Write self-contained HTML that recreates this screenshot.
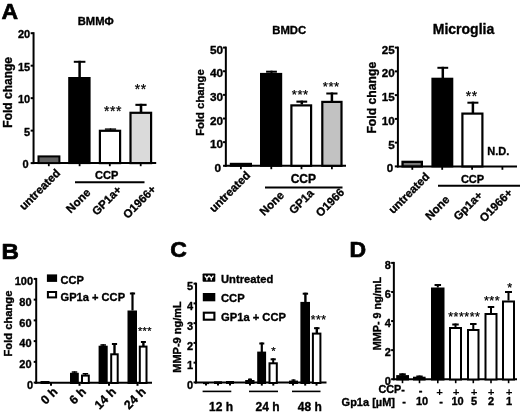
<!DOCTYPE html>
<html><head><meta charset="utf-8"><title>Figure</title>
<style>
html,body{margin:0;padding:0;background:#fff;}
svg{display:block;}
svg text{font-family:"Liberation Sans", sans-serif;fill:#000;stroke:#000;stroke-width:0.35px;stroke-linejoin:round;}
svg text.pl{stroke-width:0.7px;}
svg text.st{stroke-width:0.25px;}
svg text.ns{stroke-width:0;}
</style></head>
<body>
<svg width="520" height="416" viewBox="0 0 520 416">
<rect width="520" height="416" fill="#fff"/>
<text x="1.5" y="18.8" font-size="22" text-anchor="start" font-weight="bold" class="pl" textLength="16.6" lengthAdjust="spacingAndGlyphs">A</text>
<text x="1.5" y="259" font-size="22" text-anchor="start" font-weight="bold" class="pl" textLength="17.4" lengthAdjust="spacingAndGlyphs">B</text>
<text x="170.3" y="257.2" font-size="22" text-anchor="start" font-weight="bold" class="pl" textLength="16.6" lengthAdjust="spacingAndGlyphs">C</text>
<text x="349.5" y="257.2" font-size="22" text-anchor="start" font-weight="bold" class="pl" textLength="16.6" lengthAdjust="spacingAndGlyphs">D</text>
<text x="95.7" y="25.4" font-size="11.2" text-anchor="middle" font-weight="bold">BMMΦ</text>
<line x1="33.55" y1="32.2" x2="33.55" y2="164.1" stroke="#000" stroke-width="2"/>
<line x1="30.65" y1="163.1" x2="33.55" y2="163.1" stroke="#000" stroke-width="2"/>
<text x="28.65" y="168.34" font-size="11" text-anchor="end" font-weight="bold">0</text>
<line x1="30.65" y1="130.625" x2="33.55" y2="130.625" stroke="#000" stroke-width="2"/>
<text x="30.15" y="135.86" font-size="11" text-anchor="end" font-weight="bold">5</text>
<line x1="30.65" y1="98.15" x2="33.55" y2="98.15" stroke="#000" stroke-width="2"/>
<text x="30.15" y="103.39" font-size="11" text-anchor="end" font-weight="bold">10</text>
<line x1="30.65" y1="65.67500000000001" x2="33.55" y2="65.67500000000001" stroke="#000" stroke-width="2"/>
<text x="30.15" y="70.91" font-size="11" text-anchor="end" font-weight="bold">15</text>
<line x1="30.65" y1="33.20000000000002" x2="33.55" y2="33.20000000000002" stroke="#000" stroke-width="2"/>
<text x="30.15" y="38.44" font-size="11" text-anchor="end" font-weight="bold">20</text>
<line x1="32.55" y1="163.0" x2="156.2" y2="163.0" stroke="#000" stroke-width="2"/>
<text x="12.3" y="92.3" font-size="12" text-anchor="middle" font-weight="bold" transform="rotate(-90 12.3 92.3)">Fold change</text>
<rect x="38.5" y="156.4" width="20.9" height="6.699999999999989" fill="#606060" stroke="#000" stroke-width="2"/>
<rect x="69.2" y="78.0" width="20.39999999999999" height="85.1" fill="#000" stroke="#000" stroke-width="2"/>
<line x1="79.6" y1="60.8" x2="79.6" y2="77" stroke="#000" stroke-width="2.5"/>
<line x1="73.8" y1="61.8" x2="85.39999999999999" y2="61.8" stroke="#000" stroke-width="2"/>
<rect x="99.89999999999999" y="130.79999999999998" width="20.200000000000006" height="32.300000000000004" fill="#fff" stroke="#000" stroke-width="2.2"/>
<line x1="110.5" y1="128.4" x2="110.5" y2="130" stroke="#000" stroke-width="1.4"/>
<line x1="104.9" y1="129.1" x2="116.1" y2="129.1" stroke="#000" stroke-width="1.4"/>
<rect x="130.5" y="112.8" width="20.599999999999984" height="50.29999999999999" fill="#dadada" stroke="#000" stroke-width="2.2"/>
<line x1="141" y1="103.8" x2="141" y2="112" stroke="#000" stroke-width="2.6"/>
<line x1="135.4" y1="104.85" x2="146.6" y2="104.85" stroke="#000" stroke-width="2.1"/>
<line x1="48.8" y1="163.1" x2="48.8" y2="166.2" stroke="#000" stroke-width="1.8"/>
<line x1="79.6" y1="163.1" x2="79.6" y2="166.2" stroke="#000" stroke-width="1.8"/>
<line x1="109.8" y1="163.1" x2="109.8" y2="166.2" stroke="#000" stroke-width="1.8"/>
<line x1="140.7" y1="163.1" x2="140.7" y2="166.2" stroke="#000" stroke-width="1.8"/>
<text x="113.1" y="116.34" font-size="13.95" text-anchor="middle" font-weight="normal" class="st" letter-spacing="0.6">***</text>
<text x="140.8" y="94.34" font-size="13.95" text-anchor="middle" font-weight="normal" class="st" letter-spacing="0.6">**</text>
<text x="106.7" y="179" font-size="11" text-anchor="middle" font-weight="bold">CCP</text>
<line x1="75" y1="182.2" x2="144.5" y2="182.2" stroke="#000" stroke-width="2"/>
<text x="61" y="173.8" font-size="11.5" text-anchor="end" font-weight="bold" transform="rotate(-45 61 173.8)">untreated</text>
<text x="91.2" y="193.3" font-size="11.5" text-anchor="end" font-weight="bold" transform="rotate(-45 91.2 193.3)">None</text>
<text x="122.3" y="190.5" font-size="11.5" text-anchor="end" font-weight="bold" transform="rotate(-45 122.3 190.5)">GP1a+</text>
<text x="156.8" y="190" font-size="11.5" text-anchor="end" font-weight="bold" transform="rotate(-45 156.8 190)">O1966+</text>
<text x="289.2" y="33.5" font-size="11.3" text-anchor="middle" font-weight="bold">BMDC</text>
<line x1="225.85" y1="46.6" x2="225.85" y2="166.8" stroke="#000" stroke-width="2"/>
<line x1="223.04999999999998" y1="165.8" x2="225.85" y2="165.8" stroke="#000" stroke-width="2"/>
<text x="221.05" y="171.92" font-size="11.8" text-anchor="end" font-weight="bold">0</text>
<line x1="223.04999999999998" y1="142.16" x2="225.85" y2="142.16" stroke="#000" stroke-width="2"/>
<text x="223.05" y="148.28" font-size="11.8" text-anchor="end" font-weight="bold">10</text>
<line x1="223.04999999999998" y1="118.52000000000001" x2="225.85" y2="118.52000000000001" stroke="#000" stroke-width="2"/>
<text x="223.05" y="124.64" font-size="11.8" text-anchor="end" font-weight="bold">20</text>
<line x1="223.04999999999998" y1="94.88000000000001" x2="225.85" y2="94.88000000000001" stroke="#000" stroke-width="2"/>
<text x="223.05" y="101.0" font-size="11.8" text-anchor="end" font-weight="bold">30</text>
<line x1="223.04999999999998" y1="71.24" x2="225.85" y2="71.24" stroke="#000" stroke-width="2"/>
<text x="223.05" y="77.36" font-size="11.8" text-anchor="end" font-weight="bold">40</text>
<line x1="223.04999999999998" y1="47.599999999999994" x2="225.85" y2="47.599999999999994" stroke="#000" stroke-width="2"/>
<text x="223.05" y="53.72" font-size="11.8" text-anchor="end" font-weight="bold">50</text>
<line x1="224.85" y1="165.8" x2="346" y2="165.8" stroke="#000" stroke-width="2"/>
<text x="204.3" y="102.6" font-size="11.3" text-anchor="middle" font-weight="bold" transform="rotate(-90 204.3 102.6)">Fold change</text>
<rect x="230.8" y="163.8" width="20.19999999999999" height="2.0" fill="#222" stroke="#000" stroke-width="2"/>
<rect x="261.0" y="73.9" width="20.19999999999999" height="91.9" fill="#000" stroke="#000" stroke-width="2"/>
<line x1="271.5" y1="70.7" x2="271.5" y2="73" stroke="#000" stroke-width="2"/>
<line x1="266.1" y1="71.7" x2="276.9" y2="71.7" stroke="#000" stroke-width="2"/>
<rect x="291.40000000000003" y="105.39999999999999" width="19.699999999999978" height="60.40000000000001" fill="#fff" stroke="#000" stroke-width="2.2"/>
<line x1="301.8" y1="100.6" x2="301.8" y2="104.5" stroke="#000" stroke-width="2.5"/>
<line x1="296.40000000000003" y1="101.64999999999999" x2="307.2" y2="101.64999999999999" stroke="#000" stroke-width="2.1"/>
<rect x="322.3" y="101.89999999999999" width="19.200000000000035" height="63.90000000000001" fill="#c2c2c2" stroke="#000" stroke-width="2.2"/>
<line x1="331.9" y1="92.5" x2="331.9" y2="101" stroke="#000" stroke-width="2.5"/>
<line x1="326.29999999999995" y1="93.5" x2="337.5" y2="93.5" stroke="#000" stroke-width="2"/>
<line x1="240.9" y1="165.8" x2="240.9" y2="169.2" stroke="#000" stroke-width="1.8"/>
<line x1="271.3" y1="165.8" x2="271.3" y2="169.2" stroke="#000" stroke-width="1.8"/>
<line x1="301.5" y1="165.8" x2="301.5" y2="169.2" stroke="#000" stroke-width="1.8"/>
<line x1="331.9" y1="165.8" x2="331.9" y2="169.2" stroke="#000" stroke-width="1.8"/>
<text x="300.28" y="98.79" font-size="13.05" text-anchor="middle" font-weight="normal" class="st" letter-spacing="0.56">***</text>
<text x="331.28" y="91.09" font-size="13.05" text-anchor="middle" font-weight="normal" class="st" letter-spacing="0.56">***</text>
<text x="303.3" y="182.5" font-size="12" text-anchor="middle" font-weight="bold">CCP</text>
<line x1="265" y1="187.5" x2="342.5" y2="187.5" stroke="#000" stroke-width="2"/>
<text x="251" y="176" font-size="11.5" text-anchor="end" font-weight="bold" transform="rotate(-45 251 176)">untreated</text>
<text x="284.7" y="196" font-size="11.5" text-anchor="end" font-weight="bold" transform="rotate(-45 284.7 196)">None</text>
<text x="314.5" y="194" font-size="11.5" text-anchor="end" font-weight="bold" transform="rotate(-45 314.5 194)">GP1a</text>
<text x="345" y="193" font-size="11.5" text-anchor="end" font-weight="bold" transform="rotate(-45 345 193)">O1966</text>
<text x="463.5" y="33.9" font-size="14" text-anchor="middle" font-weight="bold">Microglia</text>
<line x1="397.9" y1="46.6" x2="397.9" y2="167.4" stroke="#000" stroke-width="2"/>
<line x1="394.79999999999995" y1="166.4" x2="397.9" y2="166.4" stroke="#000" stroke-width="2"/>
<text x="393.1" y="172.35" font-size="11.6" text-anchor="end" font-weight="bold">0</text>
<line x1="394.79999999999995" y1="142.64000000000001" x2="397.9" y2="142.64000000000001" stroke="#000" stroke-width="2"/>
<text x="394.7" y="148.59" font-size="11.6" text-anchor="end" font-weight="bold">5</text>
<line x1="394.79999999999995" y1="118.88" x2="397.9" y2="118.88" stroke="#000" stroke-width="2"/>
<text x="394.7" y="124.83" font-size="11.6" text-anchor="end" font-weight="bold">10</text>
<line x1="394.79999999999995" y1="95.12" x2="397.9" y2="95.12" stroke="#000" stroke-width="2"/>
<text x="394.7" y="101.07" font-size="11.6" text-anchor="end" font-weight="bold">15</text>
<line x1="394.79999999999995" y1="71.36" x2="397.9" y2="71.36" stroke="#000" stroke-width="2"/>
<text x="394.7" y="77.31" font-size="11.6" text-anchor="end" font-weight="bold">20</text>
<line x1="394.79999999999995" y1="47.60000000000001" x2="397.9" y2="47.60000000000001" stroke="#000" stroke-width="2"/>
<text x="394.7" y="53.55" font-size="11.6" text-anchor="end" font-weight="bold">25</text>
<line x1="396.9" y1="166.4" x2="517" y2="166.4" stroke="#000" stroke-width="2"/>
<text x="376.2" y="97.7" font-size="12.2" text-anchor="middle" font-weight="bold" transform="rotate(-90 376.2 97.7)">Fold change</text>
<rect x="402.54999999999995" y="161.85" width="19.300000000000022" height="4.550000000000017" fill="#777" stroke="#000" stroke-width="2.3"/>
<rect x="432.4" y="78.7" width="19.900000000000034" height="87.7" fill="#000" stroke="#000" stroke-width="2"/>
<line x1="442.8" y1="66.8" x2="442.8" y2="78" stroke="#000" stroke-width="2.5"/>
<line x1="437.40000000000003" y1="67.8" x2="448.2" y2="67.8" stroke="#000" stroke-width="2"/>
<rect x="462.40000000000003" y="113.6" width="19.99999999999999" height="52.800000000000004" fill="#fff" stroke="#000" stroke-width="2.2"/>
<line x1="472.9" y1="101.7" x2="472.9" y2="113" stroke="#000" stroke-width="2.5"/>
<line x1="467.4" y1="102.7" x2="478.4" y2="102.7" stroke="#000" stroke-width="2"/>
<line x1="412.3" y1="166.4" x2="412.3" y2="169.8" stroke="#000" stroke-width="1.8"/>
<line x1="442.2" y1="166.4" x2="442.2" y2="169.8" stroke="#000" stroke-width="1.8"/>
<line x1="472.1" y1="166.4" x2="472.1" y2="169.8" stroke="#000" stroke-width="1.8"/>
<line x1="502.4" y1="166.4" x2="502.4" y2="169.8" stroke="#000" stroke-width="1.8"/>
<text x="471.8" y="101.14" font-size="13.95" text-anchor="middle" font-weight="normal" class="st" letter-spacing="0.6">**</text>
<text x="498.3" y="155" font-size="11" text-anchor="middle" font-weight="bold">N.D.</text>
<text x="472.5" y="183" font-size="11" text-anchor="middle" font-weight="bold">CCP</text>
<line x1="438" y1="185.7" x2="520" y2="185.7" stroke="#000" stroke-width="2"/>
<text x="430.3" y="177.3" font-size="11.5" text-anchor="end" font-weight="bold" transform="rotate(-45 430.3 177.3)">untreated</text>
<text x="450.3" y="200.3" font-size="11.5" text-anchor="end" font-weight="bold" transform="rotate(-45 450.3 200.3)">None</text>
<text x="483.3" y="196" font-size="11.5" text-anchor="end" font-weight="bold" transform="rotate(-45 483.3 196)">Gp1a+</text>
<text x="513.3" y="193.5" font-size="11.5" text-anchor="end" font-weight="bold" transform="rotate(-45 513.3 193.5)">O1966+</text>
<line x1="36.2" y1="277.9" x2="36.2" y2="383.6" stroke="#000" stroke-width="2"/>
<line x1="33.7" y1="382.6" x2="36.2" y2="382.6" stroke="#000" stroke-width="2"/>
<text x="33.1" y="388.94" font-size="11" text-anchor="end" font-weight="bold">0</text>
<line x1="33.7" y1="361.86" x2="36.2" y2="361.86" stroke="#000" stroke-width="2"/>
<text x="31.6" y="368.2" font-size="11" text-anchor="end" font-weight="bold">20</text>
<line x1="33.7" y1="341.12" x2="36.2" y2="341.12" stroke="#000" stroke-width="2"/>
<text x="31.6" y="347.46" font-size="11" text-anchor="end" font-weight="bold">40</text>
<line x1="33.7" y1="320.38" x2="36.2" y2="320.38" stroke="#000" stroke-width="2"/>
<text x="31.6" y="326.72" font-size="11" text-anchor="end" font-weight="bold">60</text>
<line x1="33.7" y1="299.64" x2="36.2" y2="299.64" stroke="#000" stroke-width="2"/>
<text x="31.6" y="305.98" font-size="11" text-anchor="end" font-weight="bold">80</text>
<line x1="33.7" y1="278.9" x2="36.2" y2="278.9" stroke="#000" stroke-width="2"/>
<text x="33.1" y="285.24" font-size="11" text-anchor="end" font-weight="bold">100</text>
<line x1="35.2" y1="382.8" x2="152" y2="382.8" stroke="#000" stroke-width="2"/>
<text x="12.4" y="323.6" font-size="11.2" text-anchor="middle" font-weight="bold" transform="rotate(-90 12.4 323.6)">Fold change</text>
<rect x="46.9" y="274.4" width="10.2" height="7.5" fill="#000"/>
<text x="60.6" y="284.4" font-size="11.1" text-anchor="start" font-weight="bold">CCP</text>
<rect x="47.9" y="292" width="8.2" height="5.4" fill="#fff" stroke="#000" stroke-width="2"/>
<text x="60.6" y="300.5" font-size="11.1" text-anchor="start" font-weight="bold">GP1a + CCP</text>
<rect x="41.5" y="382.0" width="7.0" height="1.0" fill="#000" stroke="#000" stroke-width="2"/>
<rect x="71.0" y="373.8" width="6.799999999999997" height="9.199999999999989" fill="#000" stroke="#000" stroke-width="2"/>
<line x1="74.5" y1="371.3" x2="74.5" y2="373" stroke="#000" stroke-width="1.5"/>
<line x1="71.75" y1="372.05" x2="77.25" y2="372.05" stroke="#000" stroke-width="1.5"/>
<rect x="82.0" y="375.6" width="6.799999999999997" height="7.399999999999977" fill="#fff" stroke="#000" stroke-width="2"/>
<line x1="85.4" y1="373" x2="85.4" y2="375" stroke="#000" stroke-width="1.5"/>
<line x1="82.65" y1="373.75" x2="88.15" y2="373.75" stroke="#000" stroke-width="1.5"/>
<rect x="99.6" y="346.7" width="7.1000000000000085" height="36.30000000000001" fill="#000" stroke="#000" stroke-width="2"/>
<line x1="103.2" y1="344.2" x2="103.2" y2="346" stroke="#000" stroke-width="1.6"/>
<line x1="100.45" y1="345.0" x2="105.95" y2="345.0" stroke="#000" stroke-width="1.6"/>
<rect x="111.2" y="354.3" width="6.5" height="28.69999999999999" fill="#fff" stroke="#000" stroke-width="2"/>
<line x1="114.5" y1="343" x2="114.5" y2="354" stroke="#000" stroke-width="2.4"/>
<line x1="111.9" y1="344.0" x2="117.1" y2="344.0" stroke="#000" stroke-width="2"/>
<rect x="128.5" y="311.5" width="7.5" height="71.5" fill="#000" stroke="#000" stroke-width="2"/>
<line x1="132.5" y1="292.5" x2="132.5" y2="310.5" stroke="#000" stroke-width="2.2"/>
<line x1="129.9" y1="293.5" x2="135.1" y2="293.5" stroke="#000" stroke-width="2"/>
<rect x="139.8" y="346.6" width="6.699999999999989" height="36.39999999999998" fill="#fff" stroke="#000" stroke-width="2"/>
<line x1="143.4" y1="341" x2="143.4" y2="346" stroke="#000" stroke-width="2.4"/>
<line x1="140.9" y1="342.0" x2="145.9" y2="342.0" stroke="#000" stroke-width="2"/>
<line x1="51" y1="383" x2="51" y2="385.8" stroke="#000" stroke-width="2"/>
<line x1="79.5" y1="383" x2="79.5" y2="385.8" stroke="#000" stroke-width="2"/>
<line x1="109" y1="383" x2="109" y2="385.8" stroke="#000" stroke-width="2"/>
<line x1="137.5" y1="383" x2="137.5" y2="385.8" stroke="#000" stroke-width="2"/>
<text x="144.94" y="335.29" font-size="10.8" text-anchor="middle" font-weight="normal" class="st" letter-spacing="0.47">***</text>
<text x="58.3" y="392.5" font-size="12.3" text-anchor="end" font-weight="bold" transform="rotate(-45 58.3 392.5)">0 h</text>
<text x="86.8" y="392.5" font-size="12.3" text-anchor="end" font-weight="bold" transform="rotate(-45 86.8 392.5)">6 h</text>
<text x="116.8" y="392.5" font-size="12.3" text-anchor="end" font-weight="bold" transform="rotate(-45 116.8 392.5)">14 h</text>
<text x="146.5" y="392.5" font-size="12.3" text-anchor="end" font-weight="bold" transform="rotate(-45 146.5 392.5)">24 h</text>
<line x1="196.05" y1="282.65" x2="196.05" y2="383.4" stroke="#000" stroke-width="2"/>
<line x1="193.55" y1="382.4" x2="196.05" y2="382.4" stroke="#000" stroke-width="2"/>
<text x="193.15" y="389.14" font-size="11" text-anchor="end" font-weight="bold">0</text>
<line x1="193.55" y1="362.65" x2="196.05" y2="362.65" stroke="#000" stroke-width="2"/>
<text x="193.15" y="369.39" font-size="11" text-anchor="end" font-weight="bold">1</text>
<line x1="193.55" y1="342.9" x2="196.05" y2="342.9" stroke="#000" stroke-width="2"/>
<text x="193.15" y="349.64" font-size="11" text-anchor="end" font-weight="bold">2</text>
<line x1="193.55" y1="323.15" x2="196.05" y2="323.15" stroke="#000" stroke-width="2"/>
<text x="193.15" y="329.89" font-size="11" text-anchor="end" font-weight="bold">3</text>
<line x1="193.55" y1="303.4" x2="196.05" y2="303.4" stroke="#000" stroke-width="2"/>
<text x="193.15" y="310.14" font-size="11" text-anchor="end" font-weight="bold">4</text>
<line x1="193.55" y1="283.65" x2="196.05" y2="283.65" stroke="#000" stroke-width="2"/>
<text x="193.15" y="290.39" font-size="11" text-anchor="end" font-weight="bold">5</text>
<line x1="195.05" y1="382.5" x2="326.5" y2="382.5" stroke="#000" stroke-width="2"/>
<text x="181" y="337" font-size="11" text-anchor="middle" font-weight="bold" transform="rotate(-90 181 337)">MMP-9 ng/mL</text>
<rect x="202.6" y="273.5" width="12.7" height="8.3" rx="0.8" fill="#000"/>
<path d="M205.1 276 L206.9 278.4 L208.7 276 M206.9 278.2 V279.7 M209.5 276 L211.3 278.4 L213.1 276 M211.3 278.2 V279.7" fill="none" stroke="#fff" stroke-width="1.35" stroke-linecap="round"/>
<text x="221" y="283" font-size="11.2" text-anchor="start" font-weight="bold">Untreated</text>
<rect x="202.8" y="293" width="12.5" height="8.3" fill="#000"/>
<text x="221" y="301.7" font-size="11.2" text-anchor="start" font-weight="bold">CCP</text>
<rect x="203.8" y="312.7" width="10.6" height="7" fill="#fff" stroke="#000" stroke-width="2.1"/>
<text x="221" y="320.5" font-size="11.2" text-anchor="start" font-weight="bold">GP1a + CCP</text>
<rect x="204.0" y="383.0" width="4" height="0.1" fill="#000" stroke="#000" stroke-width="2"/>
<rect x="215.0" y="382.3" width="6" height="0.6999999999999886" fill="#000" stroke="#000" stroke-width="2"/>
<rect x="227.0" y="382.0" width="6" height="1.0" fill="#000" stroke="#000" stroke-width="2"/>
<line x1="206" y1="383" x2="206" y2="385.6" stroke="#000" stroke-width="2"/>
<line x1="218" y1="383" x2="218" y2="385.6" stroke="#000" stroke-width="2"/>
<line x1="230" y1="383" x2="230" y2="385.6" stroke="#000" stroke-width="2"/>
<line x1="202.6" y1="391.4" x2="231.3" y2="391.4" stroke="#000" stroke-width="1.6"/>
<text x="221" y="411.4" font-size="12" text-anchor="middle" font-weight="bold">12 h</text>
<rect x="246.2" y="381.0" width="7.300000000000011" height="2.0" fill="#000" stroke="#000" stroke-width="2"/>
<line x1="250" y1="378.6" x2="250" y2="380" stroke="#000" stroke-width="1.4"/>
<line x1="248.0" y1="379.3" x2="252.0" y2="379.3" stroke="#000" stroke-width="1.4"/>
<rect x="258.2" y="352.6" width="6.900000000000034" height="30.399999999999977" fill="#000" stroke="#000" stroke-width="2"/>
<line x1="261.8" y1="342.5" x2="261.8" y2="352" stroke="#000" stroke-width="2.2"/>
<line x1="259.3" y1="343.5" x2="264.3" y2="343.5" stroke="#000" stroke-width="2"/>
<rect x="269.5" y="363.3" width="7.300000000000011" height="19.69999999999999" fill="#fff" stroke="#000" stroke-width="2"/>
<line x1="273.2" y1="358.3" x2="273.2" y2="363" stroke="#000" stroke-width="2"/>
<line x1="270.59999999999997" y1="359.3" x2="275.8" y2="359.3" stroke="#000" stroke-width="2"/>
<line x1="250" y1="383" x2="250" y2="385.6" stroke="#000" stroke-width="2"/>
<line x1="261.8" y1="383" x2="261.8" y2="385.6" stroke="#000" stroke-width="2"/>
<line x1="273.3" y1="383" x2="273.3" y2="385.6" stroke="#000" stroke-width="2"/>
<text x="273.75" y="355.01" font-size="11.25" text-anchor="middle" font-weight="normal" class="st" letter-spacing="0.49">*</text>
<line x1="249" y1="391.4" x2="278" y2="391.4" stroke="#000" stroke-width="1.6"/>
<text x="267.5" y="411.4" font-size="12" text-anchor="middle" font-weight="bold">24 h</text>
<rect x="290.0" y="381.6" width="7" height="1.3999999999999773" fill="#000" stroke="#000" stroke-width="2"/>
<line x1="293.5" y1="379.4" x2="293.5" y2="381" stroke="#000" stroke-width="1.4"/>
<line x1="291.5" y1="380.09999999999997" x2="295.5" y2="380.09999999999997" stroke="#000" stroke-width="1.4"/>
<rect x="301.4" y="302.9" width="7.600000000000023" height="80.10000000000002" fill="#000" stroke="#000" stroke-width="2"/>
<line x1="305.4" y1="292.7" x2="305.4" y2="302" stroke="#000" stroke-width="2.4"/>
<line x1="302.7" y1="293.7" x2="308.09999999999997" y2="293.7" stroke="#000" stroke-width="2"/>
<rect x="312.9" y="333.6" width="7.5" height="49.39999999999998" fill="#fff" stroke="#000" stroke-width="2"/>
<line x1="316.8" y1="327.2" x2="316.8" y2="333" stroke="#000" stroke-width="2.4"/>
<line x1="314.05" y1="328.2" x2="319.55" y2="328.2" stroke="#000" stroke-width="2"/>
<line x1="293" y1="383" x2="293" y2="385.6" stroke="#000" stroke-width="2"/>
<line x1="305.2" y1="383" x2="305.2" y2="385.6" stroke="#000" stroke-width="2"/>
<line x1="316.5" y1="383" x2="316.5" y2="385.6" stroke="#000" stroke-width="2"/>
<text x="318.66" y="324.25" font-size="12.15" text-anchor="middle" font-weight="normal" class="st" letter-spacing="0.53">***</text>
<line x1="292" y1="391.4" x2="320.5" y2="391.4" stroke="#000" stroke-width="1.6"/>
<text x="309.8" y="411.4" font-size="12" text-anchor="middle" font-weight="bold">48 h</text>
<line x1="393.85" y1="261.9" x2="393.85" y2="380.2" stroke="#000" stroke-width="2"/>
<line x1="391.15000000000003" y1="379.2" x2="393.85" y2="379.2" stroke="#000" stroke-width="2"/>
<text x="390.85" y="385.04" font-size="11" text-anchor="end" font-weight="bold">0</text>
<line x1="391.15000000000003" y1="350.125" x2="393.85" y2="350.125" stroke="#000" stroke-width="2"/>
<text x="390.85" y="355.96" font-size="11" text-anchor="end" font-weight="bold">2</text>
<line x1="391.15000000000003" y1="321.04999999999995" x2="393.85" y2="321.04999999999995" stroke="#000" stroke-width="2"/>
<text x="390.85" y="326.89" font-size="11" text-anchor="end" font-weight="bold">4</text>
<line x1="391.15000000000003" y1="291.97499999999997" x2="393.85" y2="291.97499999999997" stroke="#000" stroke-width="2"/>
<text x="390.85" y="297.81" font-size="11" text-anchor="end" font-weight="bold">6</text>
<line x1="391.15000000000003" y1="262.9" x2="393.85" y2="262.9" stroke="#000" stroke-width="2"/>
<text x="390.85" y="268.74" font-size="11" text-anchor="end" font-weight="bold">8</text>
<line x1="392.85" y1="379.2" x2="517" y2="379.2" stroke="#000" stroke-width="2"/>
<text x="381" y="313.6" font-size="10.8" text-anchor="middle" font-weight="bold" transform="rotate(-90 381 313.6)">MMP- 9 ng/mL</text>
<rect x="397.2" y="376.1" width="10.800000000000011" height="3.3999999999999773" fill="#000" stroke="#000" stroke-width="2"/>
<line x1="402.5" y1="373.3" x2="402.5" y2="376" stroke="#000" stroke-width="2"/>
<line x1="399.2" y1="374.3" x2="405.8" y2="374.3" stroke="#000" stroke-width="2"/>
<rect x="414.0" y="377.7" width="10.600000000000023" height="1.8000000000000114" fill="#000" stroke="#000" stroke-width="2"/>
<line x1="419.5" y1="375.5" x2="419.5" y2="378" stroke="#000" stroke-width="2"/>
<line x1="416.3" y1="376.3" x2="422.7" y2="376.3" stroke="#000" stroke-width="1.6"/>
<rect x="432.0" y="288.5" width="11.5" height="91.0" fill="#000" stroke="#000" stroke-width="2"/>
<line x1="437.8" y1="284" x2="437.8" y2="287.5" stroke="#000" stroke-width="2"/>
<line x1="434.55" y1="285.0" x2="441.05" y2="285.0" stroke="#000" stroke-width="2"/>
<rect x="450.0" y="328.0" width="11" height="51.5" fill="#fff" stroke="#000" stroke-width="2"/>
<line x1="455.5" y1="323.5" x2="455.5" y2="327" stroke="#000" stroke-width="2"/>
<line x1="452.25" y1="324.5" x2="458.75" y2="324.5" stroke="#000" stroke-width="2"/>
<rect x="468.0" y="330.0" width="10.5" height="49.5" fill="#fff" stroke="#000" stroke-width="2"/>
<line x1="473.3" y1="323" x2="473.3" y2="329" stroke="#000" stroke-width="2"/>
<line x1="470.05" y1="324.0" x2="476.55" y2="324.0" stroke="#000" stroke-width="2"/>
<rect x="485.5" y="314.0" width="11.0" height="65.5" fill="#fff" stroke="#000" stroke-width="2"/>
<line x1="491" y1="306" x2="491" y2="313" stroke="#000" stroke-width="2"/>
<line x1="487.75" y1="307.0" x2="494.25" y2="307.0" stroke="#000" stroke-width="2"/>
<rect x="503.0" y="301.5" width="11" height="78.0" fill="#fff" stroke="#000" stroke-width="2"/>
<line x1="508.5" y1="291" x2="508.5" y2="300.5" stroke="#000" stroke-width="2"/>
<line x1="505.0" y1="292.0" x2="512.0" y2="292.0" stroke="#000" stroke-width="2"/>
<line x1="402.5" y1="379.2" x2="402.5" y2="383.2" stroke="#000" stroke-width="1.6"/>
<line x1="419.5" y1="379.2" x2="419.5" y2="383.2" stroke="#000" stroke-width="1.6"/>
<line x1="437.8" y1="379.2" x2="437.8" y2="383.2" stroke="#000" stroke-width="1.6"/>
<line x1="455.7" y1="379.2" x2="455.7" y2="383.2" stroke="#000" stroke-width="1.6"/>
<line x1="473.3" y1="379.2" x2="473.3" y2="383.2" stroke="#000" stroke-width="1.6"/>
<line x1="491" y1="379.2" x2="491" y2="383.2" stroke="#000" stroke-width="1.6"/>
<line x1="508.6" y1="379.2" x2="508.6" y2="383.2" stroke="#000" stroke-width="1.6"/>
<text x="464.27" y="321.19" font-size="12.42" text-anchor="middle" font-weight="normal" class="st" letter-spacing="0.54">******</text>
<text x="492.07" y="305.17" font-size="12.6" text-anchor="middle" font-weight="normal" class="st" letter-spacing="0.54">***</text>
<text x="509.97" y="291.87" font-size="12.6" text-anchor="middle" font-weight="normal" class="st" letter-spacing="0.54">*</text>
<text x="404.8" y="393.2" font-size="10.8" text-anchor="end" font-weight="bold">CCP-</text>
<text x="420.5" y="394" font-size="11" text-anchor="middle" font-weight="bold">-</text>
<text x="439.5" y="395.7" font-size="11.5" text-anchor="middle" font-weight="bold" class="ns">+</text>
<text x="456" y="395.7" font-size="11.5" text-anchor="middle" font-weight="bold" class="ns">+</text>
<text x="474" y="395.7" font-size="11.5" text-anchor="middle" font-weight="bold" class="ns">+</text>
<text x="491" y="395.7" font-size="11.5" text-anchor="middle" font-weight="bold" class="ns">+</text>
<text x="509" y="395.7" font-size="11.5" text-anchor="middle" font-weight="bold" class="ns">+</text>
<text x="395" y="405.6" font-size="11" text-anchor="end" font-weight="bold">Gp1a [µM]</text>
<text x="404" y="405.2" font-size="11" text-anchor="middle" font-weight="bold">-</text>
<text x="422" y="405.2" font-size="11" text-anchor="middle" font-weight="bold">10</text>
<text x="441" y="405.2" font-size="11" text-anchor="middle" font-weight="bold">-</text>
<text x="457.5" y="405.2" font-size="11" text-anchor="middle" font-weight="bold">10</text>
<text x="474" y="405.2" font-size="11" text-anchor="middle" font-weight="bold">5</text>
<text x="491" y="405.2" font-size="11" text-anchor="middle" font-weight="bold">2</text>
<text x="509" y="405.2" font-size="11" text-anchor="middle" font-weight="bold">1</text>
</svg>
</body></html>
